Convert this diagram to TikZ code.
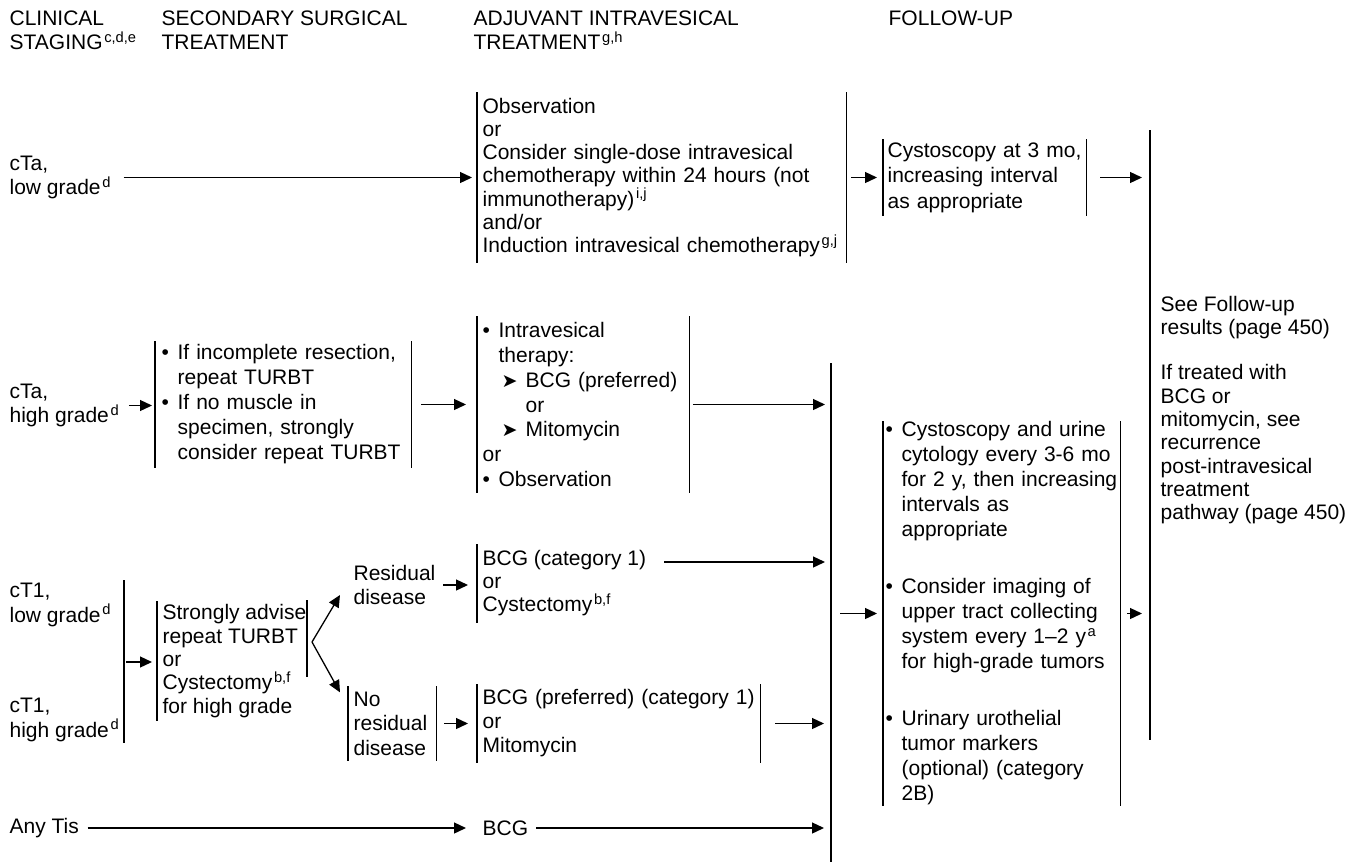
\documentclass[tikz,border=0pt]{standalone}
\usepackage{fontspec}
\setmainfont{Liberation Sans}
\newfontfamily\symfont{DejaVu Sans}
\usetikzlibrary{arrows.meta}
\newcommand{\sups}[1]{\hspace{0.08em}\textsuperscript{#1}}
\newcommand{\bul}{\makebox[16pt][l]{\textbullet}}
\newcommand{\ind}{\hspace*{16pt}}
\newcommand{\pnt}{{\symfont\fontsize{19}{19}\selectfont ➤}}
\tikzset{
  txt/.style={inner sep=0pt,anchor=west,align=left,font=\fontsize{21}{24.5}\selectfont},
  lsp/.style={font=\fontsize{21}{#1}\selectfont},
  lbar/.style={txt,inner xsep=5pt,append after command={(\tikzlastnode.north west) edge (\tikzlastnode.south west)}},
  bars/.style={lbar,text width=#1,append after command={(\tikzlastnode.north east) edge (\tikzlastnode.south east)}},
  arr/.style={-{Triangle[length=12pt,width=11pt]}},
}
\begin{document}
\begin{tikzpicture}[x=1pt,y=-1pt,line width=1.3pt]
\useasboundingbox(0,0)rectangle(1361,863);
% column heads
\node[txt,anchor=north west](hstage)at(9,10){CLINICAL\\STAGING\sups{c,d,e}};
\node[txt,anchor=north west](hsurg)at(161,10){SECONDARY SURGICAL\\TREATMENT};
\node[txt,anchor=north west](hadj)at(473,10){ADJUVANT INTRAVESICAL\\TREATMENT\sups{g,h}};
\node[txt,anchor=north west](hfup)at(888,10){FOLLOW-UP};
% clinical staging
\node[txt](ctalow)at(9,177.5){cTa,\\low grade\sups{d}};
\node[txt](ctahigh)at(9,405.5){cTa,\\high grade\sups{d}};
\node[txt](ctonelow)at(9,605){cT1,\\low grade\sups{d}};
\node[txt](ctonehigh)at(9,720){cT1,\\high grade\sups{d}};
\node[txt](anytis)at(9,828){Any Tis};
\coordinate(grptop)at(124,580);
\coordinate(grpbot)at(124,743);
\coordinate(grp)at(124,662);
\draw(grptop)--(grpbot);
% secondary surgical treatment
\node[bars=243pt,inner xsep=6pt,lsp=25,minimum height=125pt](hgrep)at(155,404.5){\bul If incomplete resection,\\\ind repeat TURBT\\\bul If no muscle in\\\ind specimen, strongly\\\ind consider repeat TURBT};
\node[lbar,lsp=23.3,minimum height=118pt](strong)at(157,661){Strongly advise\\repeat TURBT\\or\\Cystectomy\sups{b,f}\\for high grade};
\coordinate(strtop)at(307,600);
\coordinate(strbot)at(307,677);
\draw(strtop)--(strbot);
\coordinate(fork)at(312,642);
\node[txt](resid)at(353,585){Residual\\disease};
\node[bars=77pt,minimum height=73pt](nores)at(348,723.5){No\\residual\\disease};
% adjuvant intravesical treatment
\node[bars=358pt,lsp=23.3,minimum height=169pt](obs)at(477,177.5){Observation\\or\\Consider single-dose intravesical\\chemotherapy within 24 hours (not\\immunotherapy)\sups{i,j}\\and/or\\Induction intravesical chemotherapy\sups{g,j}};
\node[bars=201.5pt,lsp=24.7,minimum height=175pt](ivt)at(477,404.5){\bul Intravesical\\\ind therapy:\\\hspace*{19pt}\makebox[24pt][l]{\pnt}BCG (preferred)\\\hspace*{43pt}or\\\hspace*{19pt}\makebox[24pt][l]{\pnt}Mitomycin\\or\\\bul Observation};
\node[lbar,lsp=23,minimum height=77pt](bcgone)at(477,583.5){BCG (category 1)\\or\\Cystectomy\sups{b,f}};
\node[bars=272pt,lsp=24,minimum height=77pt](bcgtwo)at(477,723.5){BCG (preferred) (category 1)\\or\\Mitomycin};
\node[txt](bcgtis)at(482,828){BCG};
% follow-up
\node[bars=194pt,inner xsep=4pt,lsp=25.5,minimum height=75pt](cysto)at(883,177.5){Cystoscopy at 3 mo,\\increasing interval\\as appropriate};
\node[bars=232pt,inner xsep=2pt,lsp=25,minimum height=383pt](fup)at(883,613.5){\bul Cystoscopy and urine\\\ind cytology every 3-6 mo\\\ind for 2 y, then increasing\\\ind intervals as\\\ind appropriate\\[32pt]\bul Consider imaging of\\\ind upper tract collecting\\\ind system every 1–2 y\sups{a}\\\ind for high-grade tumors\\[32pt]\bul Urinary urothelial\\\ind tumor markers\\\ind (optional) (category\\\ind 2B)};
\node[txt,lsp=23.3](seefup)at(1160,410){See Follow-up\\results (page 450)\\[22pt]If treated with\\BCG or\\mitomycin, see\\recurrence\\post-intravesical\\treatment\\pathway (page 450)};
\coordinate(jtwotop)at(831,363);
\coordinate(jtwobot)at(831,862);
\coordinate(jthreetop)at(1150,130);
\coordinate(jthreebot)at(1150,740);
\draw(jtwotop)--(jtwobot);
\draw(jthreetop)--(jthreebot);
%
\draw[arr,shorten <=12pt,shorten >=5pt](ctalow.east)--(ctalow.east-|obs.west);
\draw[arr,shorten <=5pt,shorten >=6pt](obs.east)--(obs.east-|cysto.west);
\draw[arr,shorten <=14pt,shorten >=8pt](cysto.east)--(cysto.east-|jthreetop);
\draw[arr,shorten <=9pt,shorten >=3pt](ctahigh.east)--(ctahigh.east-|hgrep.west);
\draw[arr,shorten <=10pt,shorten >=11pt](hgrep.east)--(hgrep.east-|ivt.west);
\draw[arr,shorten <=3pt,shorten >=6pt](ivt.east)--(ivt.east-|jtwotop);
\draw[arr,shorten <=2pt,shorten >=5pt](grp)--(grp-|strong.west);
\draw[arr](fork)--([shift={(-13,10)}]resid.west);
\draw[arr](fork)--([shift={(-8,6)}]nores.north west);
\draw[arr,shorten <=7pt,shorten >=9pt](resid.east)--(resid.east-|bcgone.west);
\draw[arr,shorten <=12.5pt,shorten >=6pt]([yshift=21.5pt]bcgone.east)--([yshift=21.5pt]bcgone.east-|jtwotop);
\draw[arr,shorten <=8pt,shorten >=9pt](nores.east)--(nores.east-|bcgtwo.west);
\draw[arr,shorten <=15pt,shorten >=7pt](bcgtwo.east)--(bcgtwo.east-|jtwotop);
\draw[arr,shorten <=8pt,shorten >=16pt](anytis.east)--(anytis.east-|bcgtis.west);
\draw[arr,shorten <=7.5pt,shorten >=7pt](bcgtis.east)--(bcgtis.east-|jtwotop);
\draw[arr,shorten <=9pt,shorten >=6pt](fup.west-|jtwotop)--(fup.west);
\draw[arr,shorten <=7pt,shorten >=8pt](fup.east)--(fup.east-|jthreetop);
\end{tikzpicture}
\end{document}
